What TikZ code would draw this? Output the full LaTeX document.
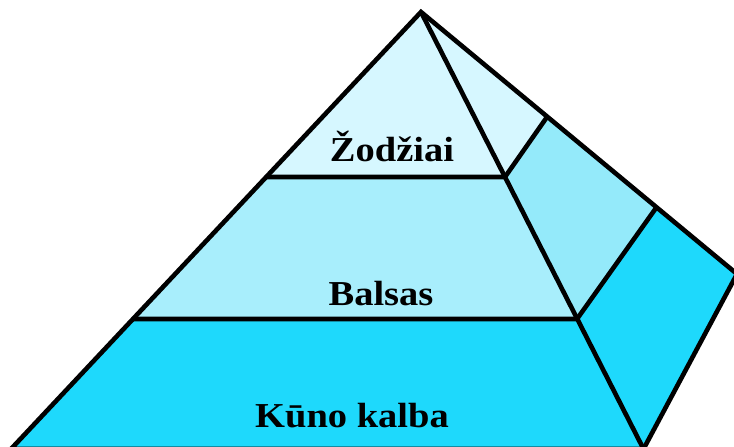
\documentclass[tikz,border=0pt]{standalone}
\usepackage{fontspec}
\newfontfamily\pyrfont{Liberation Serif}[FakeStretch=1.1]
\definecolor{layertop}{RGB}{214,247,255}
\definecolor{layermid}{RGB}{168,238,252}
\definecolor{sidemid}{RGB}{148,234,250}
\definecolor{layerbase}{RGB}{30,217,252}
\usepackage{tikz}
\usetikzlibrary{calc}

\begin{document}
\begin{tikzpicture}[x=1pt, y=-1pt,
    face/.style={draw=black, line width=4.6pt, line join=miter},
    level/.style={font=\pyrfont\bfseries\fontsize{35}{40}\selectfont,
                  anchor=base, inner sep=0pt}
]
\useasboundingbox (0,0) rectangle (734,447);
% corners of the pyramid
\coordinate (apex) at (421,12);
\coordinate (fl)   at (11,449);
\coordinate (fr)   at (643.5,449);
\coordinate (rc)   at (737,274);
% level lines on the front face
\coordinate (l1) at (266,177);  \coordinate (r1) at (505,177);
\coordinate (l2) at (133,319);  \coordinate (r2) at (577,319);
% level lines on the side face
\coordinate (s1) at (547,117);
\coordinate (s2) at (656,208);

% front face
\fill[layertop]  (apex) -- (l1) -- (r1) -- cycle;
\fill[layermid]  (l1) -- (l2) -- (r2) -- (r1) -- cycle;
\fill[layerbase] (l2) -- (fl) -- (fr) -- (r2) -- cycle;
% side face
\fill[layertop]  (apex) -- (r1) -- (s1) -- cycle;
\fill[sidemid]   (r1) -- (r2) -- (s2) -- (s1) -- cycle;
\fill[layerbase] (r2) -- (fr) -- (rc) -- (s2) -- cycle;

% outlines
\draw[face] (apex) -- (fl) -- (fr) -- (rc) -- cycle;
\draw[face] (apex) -- (fr);
\draw[face] (l1) -- (r1) -- (s1);
\draw[face] (l2) -- (r2) -- (s2);

\node[level] (words)  at (392,161) {Žodžiai};
\node[level] (voice)  at (381,305) {Balsas};
\node[level] (body)   at (352,427) {Kūno kalba};
\end{tikzpicture}
\end{document}
